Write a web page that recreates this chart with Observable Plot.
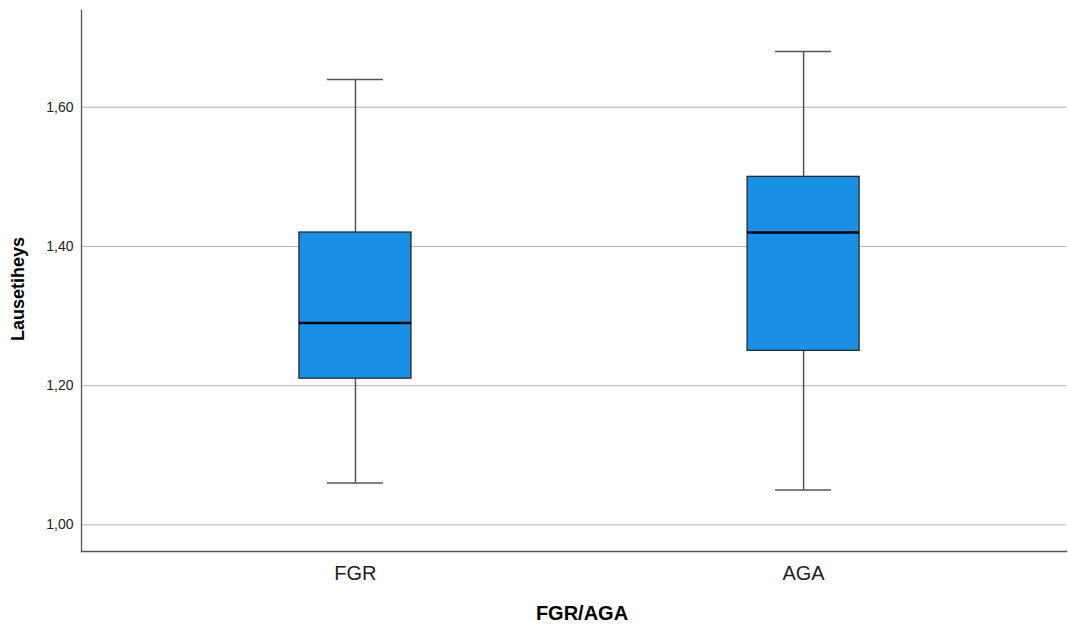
<!DOCTYPE html>
<html>
<head>
<meta charset="utf-8">
<script src="https://cdn.jsdelivr.net/npm/d3@7"></script>
<script src="https://cdn.jsdelivr.net/npm/@observablehq/plot@0.6"></script>
<style>
  html, body { margin: 0; padding: 0; background: #fff; }
  #chart svg { display: block; }
</style>
</head>
<body>
<div id="chart"></div>
<script>
const groups = ["FGR", "AGA"];
const whiskerLow = [1.06, 1.05];
const q1 = [1.21, 1.25];
const median = [1.29, 1.42];
const q3 = [1.42, 1.50];
const whiskerHigh = [1.64, 1.68];
const yTicks = [1.00, 1.20, 1.40, 1.60];
const yLabel = "Lausetiheys";
const xLabel = "FGR/AGA";

const rows = groups.map((g, i) => ({
  group: g, lo: whiskerLow[i], q1: q1[i], med: median[i], q3: q3[i], hi: whiskerHigh[i]
}));

const font = "Arial, 'Liberation Sans', sans-serif";
const fmt = d => d.toFixed(2).replace(".", ",");

const chart = Plot.plot({
  width: 1068,
  height: 624,
  marginLeft: 81,
  marginRight: 2,
  marginTop: 10,
  marginBottom: 73,
  style: { fontFamily: font, background: "#fff" },
  x: { domain: groups, paddingInner: 0.75, paddingOuter: 0.474, align: 0.513, round: false, label: null },
  y: { domain: [0.9617, 1.739], label: null },
  marks: [
    Plot.gridY(yTicks, { stroke: "#b4b4b4", strokeOpacity: 1, strokeWidth: 1 }),
    Plot.frame({ anchor: "left", stroke: "#555", strokeWidth: 1.3 }),
    Plot.frame({ anchor: "bottom", stroke: "#555", strokeWidth: 1.3 }),
    Plot.axisY(yTicks, { tickSize: 0, tickPadding: 8, tickFormat: fmt, fontSize: 14, fill: "#222", label: null }),
    Plot.axisX({ tickSize: 0, tickPadding: 14, fontSize: 20, fill: "#222", label: null }),
    Plot.ruleX(rows, { x: "group", y1: "lo", y2: "q1", stroke: "#555", strokeWidth: 1.5 }),
    Plot.ruleX(rows, { x: "group", y1: "q3", y2: "hi", stroke: "#555", strokeWidth: 1.5 }),
    Plot.tickY(rows, { x: "group", y: "lo", stroke: "#555", strokeWidth: 1.5, insetLeft: 28, insetRight: 28 }),
    Plot.tickY(rows, { x: "group", y: "hi", stroke: "#555", strokeWidth: 1.5, insetLeft: 28, insetRight: 28 }),
    Plot.barY(rows, { x: "group", y1: "q1", y2: "q3", fill: "#1a8fe6", stroke: "#2a2a2a", strokeWidth: 1.3 }),
    Plot.tickY(rows, { x: "group", y: "med", stroke: "#000", strokeWidth: 2.6 }),
    Plot.text([yLabel], { frameAnchor: "left", textAnchor: "middle", lineAnchor: "middle", dx: -63, dy: 8, rotate: -90, text: d => d, fontSize: 18, fontWeight: "bold", fill: "#000" }),
    Plot.text([xLabel], { frameAnchor: "bottom", textAnchor: "middle", lineAnchor: "middle", dx: 8, dy: 62, text: d => d, fontSize: 20, fontWeight: "bold", fill: "#000" })
  ]
});
document.getElementById("chart").appendChild(chart);
</script>
</body>
</html>
